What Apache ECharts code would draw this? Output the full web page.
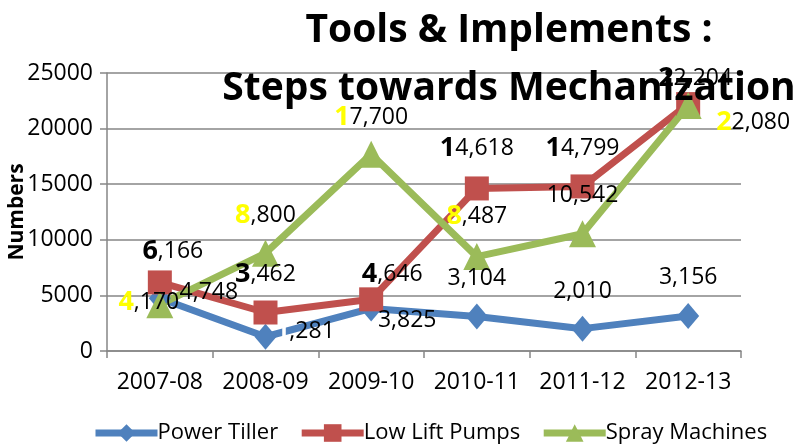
<!DOCTYPE html>
<html><head><meta charset="utf-8">
<script src="https://cdn.jsdelivr.net/npm/echarts@6/dist/echarts.min.js"></script>
<style>html,body{margin:0;padding:0;background:#fff}#c{width:803px;height:444px}</style>
</head><body><div id="c"></div>
<script>
var categories = ['2007-08','2008-09','2009-10','2010-11','2011-12','2012-13'];
var powerTiller = [4748, 1281, 3825, 3104, 2010, 3156];
var lowLiftPumps = [6166, 3462, 4646, 14618, 14799, 22204];
var sprayMachines = [4170, 8800, 17700, 8487, 10542, 22080];
var yTicks = [0, 5000, 10000, 15000, 20000, 25000];

var FONT = 'Open Sans';
// label offsets (label centre relative to point)
var offPT = [[49,-6],[40,-5],[36,12],[0,-38],[0,-37],[0,-38]];
var offLL = [[13,-31],[0,-38],[21,-25],[0,-40],[0,-38],[7,-26]];
var offSM = [[-11,-2],[0,-38],[0,-37],[0,-40],[0,-38],[65,17]];

function fmt(v){ return v.toLocaleString('en-US'); }
function mk(vals, offs, firstStyleFn){
  return vals.map(function(v,i){
    var s = fmt(v);
    var fs = firstStyleFn(i);
    return {
      value: v,
      label: {
        show: true, position: 'inside', offset: offs[i],
        align: 'center', verticalAlign: 'middle',
        formatter: '{f|' + s.charAt(0) + '}{r|' + s.slice(1) + '}',
        rich: {
          f: fs,
          r: {fontFamily: FONT, fontSize: 23, color: '#000'}
        }
      }
    };
  });
}
var normalFirst = {fontFamily: FONT, fontSize: 23, color: '#000'};
var ptData = mk(powerTiller, offPT, function(i){
  return i === 1 ? {fontFamily: FONT, fontSize: 23, color: '#fff', fontWeight: 'bold'} : normalFirst;
});
var llData = mk(lowLiftPumps, offLL, function(i){
  return {fontFamily: FONT, fontSize: 27, color: '#000', fontWeight: 'bold'};
});
var smData = mk(sprayMachines, offSM, function(i){
  return i === 4 ? normalFirst : {fontFamily: FONT, fontSize: 27, color: '#FFFF00', fontWeight: 'bold'};
});

var chart = echarts.init(document.getElementById('c'), null, {renderer: 'canvas'});
chart.setOption({
  animation: false,
  title: {
    text: 'Tools & Implements :\nSteps towards Mechanization',
    left: 504, top: -3, textAlign: 'center',
    textStyle: {fontFamily: FONT, fontWeight: 'bold', fontSize: 39, color: '#000', lineHeight: 58}
  },
  grid: {left: 107, right: 62, top: 73, bottom: 93, outerBoundsMode: 'none', containLabel: false},
  legend: {
    left: 87, top: 417, itemWidth: 62, itemHeight: 22, itemGap: 20,
    textStyle: {fontFamily: FONT, fontSize: 22, color: '#000', padding: [0,0,0,-5]},
    lineStyle: {width: 7},
    data: ['Power Tiller', 'Low Lift Pumps', 'Spray Machines']
  },
  xAxis: {
    type: 'category', data: categories, boundaryGap: true,
    axisLine: {lineStyle: {color: '#868686', width: 1.5}},
    axisTick: {show: true, length: 7, interval: 0, lineStyle: {color: '#868686', width: 1.5}},
    axisLabel: {fontFamily: FONT, fontSize: 23, color: '#000', margin: 20, interval: 0, hideOverlap: false}
  },
  yAxis: {
    type: 'value', min: yTicks[0], max: yTicks[yTicks.length-1], interval: yTicks[1]-yTicks[0],
    name: 'Numbers', nameLocation: 'middle', nameGap: 79, nameRotate: 90, nameMoveOverlap: false,
    nameTextStyle: {fontFamily: FONT, fontSize: 21, fontWeight: 'bold', color: '#000'},
    axisLine: {show: true, lineStyle: {color: '#868686', width: 1.5}},
    axisTick: {show: true, length: 7, lineStyle: {color: '#868686', width: 1.5}},
    splitLine: {lineStyle: {color: '#868686', width: 1.5}},
    axisLabel: {fontFamily: FONT, fontSize: 23, color: '#000', margin: 14,
      formatter: function(v){ return String(v); }}
  },
  series: [
    {name: 'Power Tiller', type: 'line', data: ptData, symbol: 'diamond', symbolSize: [22, 26],
     lineStyle: {color: '#4F81BD', width: 7}, itemStyle: {color: '#4F81BD'}},
    {name: 'Low Lift Pumps', type: 'line', data: llData, symbol: 'rect', symbolSize: 24,
     lineStyle: {color: '#C0504D', width: 7}, itemStyle: {color: '#C0504D'}},
    {name: 'Spray Machines', type: 'line', data: smData, symbol: 'triangle', symbolSize: 27,
     lineStyle: {color: '#9BBB59', width: 7}, itemStyle: {color: '#9BBB59'}}
  ]
});
</script>
</body></html>
